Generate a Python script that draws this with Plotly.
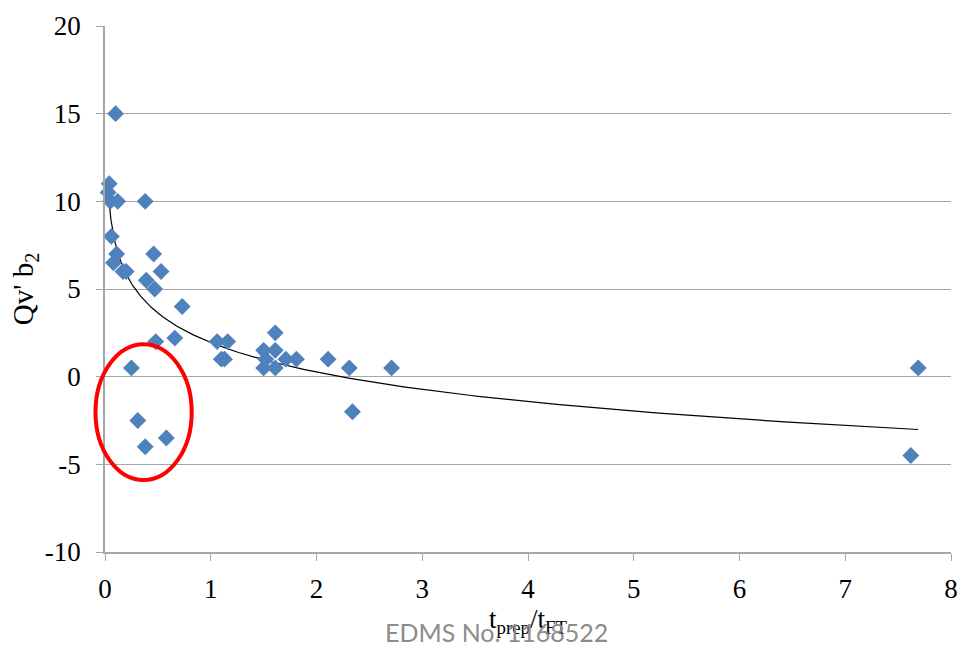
import numpy as np
import plotly.graph_objects as go

# Data
t_ratio = [0.10, 0.04, 0.03, 0.05, 0.12, 0.38, 0.06, 0.11, 0.08, 0.17, 0.20,
           0.46, 0.53, 0.39, 0.47, 0.73, 0.48, 0.66, 0.25, 0.31, 0.38, 0.58,
           1.06, 1.16, 1.10, 1.13, 1.61, 1.50, 1.61, 1.50, 1.52, 1.61, 1.71,
           1.81, 2.11, 2.31, 2.34, 2.71, 7.69, 7.62]
qv_b2 = [15, 11, 10.5, 10, 10, 10, 8, 7, 6.5, 6, 6,
         7, 6, 5.5, 5, 4, 2, 2.2, 0.5, -2.5, -4, -3.5,
         2, 2, 1, 1, 2.5, 1.5, 1.5, 0.5, 1.0, 0.5, 1,
         1, 1, 0.5, -2, 0.5, 0.5, -4.5]

x_ticks = [0, 1, 2, 3, 4, 5, 6, 7, 8]
y_ticks = [-10, -5, 0, 5, 10, 15, 20]
y_tick_text = ["-10", "-5", "0", "5", "10", "15", "20"]
x_range = [0, 8]
y_range = [-10, 20]

# Highlighted (circled) region in data units
circle_x = [-0.09, 0.82]
circle_y = [-5.9, 1.85]

# Logarithmic trendline (least squares of y vs ln x)
xa = np.array(t_ratio)
ya = np.array(qv_b2)
b, a = np.polyfit(np.log(xa), ya, 1)
xt = np.geomspace(xa.min(), xa.max(), 300)
yt = a + b * np.log(xt)

fig = go.Figure()
fig.add_trace(go.Scatter(x=xt, y=yt, mode="lines",
                         line=dict(color="black", width=1.2),
                         hoverinfo="skip", showlegend=False))
fig.add_trace(go.Scatter(x=t_ratio, y=qv_b2, mode="markers",
                         marker=dict(symbol="diamond", size=13, color="#4F81BD",
                                     line=dict(width=0)),
                         showlegend=False, cliponaxis=False))

def px(v):
    return (v - x_range[0]) / (x_range[1] - x_range[0])

def py(v):
    return (v - y_range[0]) / (y_range[1] - y_range[0])

fig.add_shape(type="circle", xref="paper", yref="paper",
              x0=px(circle_x[0]), x1=px(circle_x[1]),
              y0=py(circle_y[0]), y1=py(circle_y[1]),
              line=dict(color="#FF0000", width=4))

font_serif = "Liberation Serif, Times New Roman, serif"
fig.update_layout(
    width=969, height=645,
    margin=dict(l=105, r=11, t=20, b=93),
    plot_bgcolor="white", paper_bgcolor="white",
    font=dict(family=font_serif, size=27, color="black"),
    xaxis=dict(range=x_range, tickvals=x_ticks, showgrid=False,
               showline=True, linecolor="#A6A6A6", linewidth=1.5,
               ticks="outside", ticklen=7, tickcolor="#A6A6A6",
               zeroline=False, ticklabelstandoff=5,
               title=dict(text="t<sub>prep</sub>/t<sub>FT</sub>",
                          font=dict(size=27), standoff=4)),
    yaxis=dict(range=y_range, tickvals=y_ticks, ticktext=y_tick_text,
               showgrid=True, gridcolor="#A6A6A6", gridwidth=1.2,
               showline=True, linecolor="#A6A6A6", linewidth=1.5,
               ticks="outside", ticklen=7, tickcolor="#A6A6A6",
               zeroline=False, ticklabelstandoff=10,
               title=dict(text="Qv'\u00a0b<sub>2</sub>", font=dict(size=29),
                          standoff=3)),
)

fig.add_annotation(text="EDMS No. 1168522", xref="paper", yref="paper",
                   x=px(3.7), y=-0.152, xanchor="center", yanchor="middle",
                   showarrow=False,
                   font=dict(family="Lato, Open Sans, sans-serif", size=25,
                             color="#8C8C8C"))

fig.write_html("out.html")
